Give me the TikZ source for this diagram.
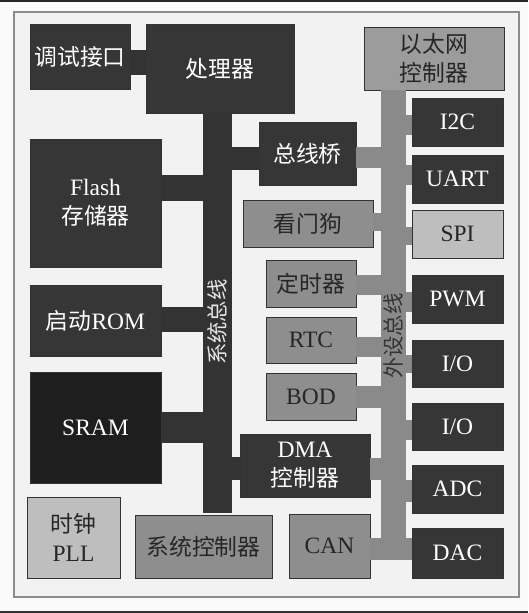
\documentclass[tikz,border=0pt]{standalone}
\usepackage{fontspec}
\setmainfont{Liberation Serif}
\newfontfamily\cjk[Scale=0.97]{Noto Sans CJK SC}
\usepackage{xcolor}
\definecolor{blkdark}{HTML}{363636}
\definecolor{sramblk}{HTML}{1E1E1E}
\definecolor{blkgray}{HTML}{8E8E8E}
\definecolor{ethgray}{HTML}{9C9C9C}
\definecolor{blklight}{HTML}{BEBEBE}
\definecolor{busdark}{HTML}{333333}
\definecolor{busgray}{HTML}{8A8A8A}
\definecolor{bgpanel}{HTML}{F2F2F2}
\tikzset{
  blk/.style={draw=black!80, line width=0.7pt, align=center, inner sep=0pt,
    font=\fontsize{23.5}{29}\selectfont},
  darkblk/.style={blk, fill=blkdark, text=white},
  grayblk/.style={blk, fill=blkgray, text=black!85},
  lightblk/.style={blk, fill=blklight, text=black!85},
  bw/.style={minimum width=#1},
  bh/.style={minimum height=#1},
  syslink/.style={draw=busdark, line width=#1},
  perlink/.style={draw=busgray, line width=#1},
  buslabel/.style={rotate=90, inner sep=0pt,
    font=\cjk\fontsize{22}{22}\selectfont}
}

\begin{document}
\begin{tikzpicture}[x=1pt, y=-1pt]
  \useasboundingbox (0,0) rectangle (528,613);
  \fill[white!98!black] (0,0) rectangle (528,613);
  \fill[black!85] (0,0) rectangle (528,1.5);
  \fill[black!80] (0,610.5) rectangle (528,613);
  \draw[draw=black!45, line width=1.8pt, fill=bgpanel] (14,12) rectangle (519,597);

  % system side
  \node[darkblk, bw=100pt, bh=65pt] (dbg) at (80,56.5) {\cjk 调试接口};
  \node[darkblk, bw=148pt, bh=89pt] (cpu) at (220,68.5) {\cjk 处理器};
  \node[darkblk, bw=131pt, bh=128pt] (flash) at (95.5,203) {Flash\\{\cjk 存储器}};
  \node[darkblk, bw=131pt, bh=71pt] (bootrom) at (95.5,320.5) {{\cjk 启动}ROM};
  \node[blk, fill=sramblk, text=white, bw=131pt, bh=111pt] (sram) at (95.5,427.5) {SRAM};
  \node[fill=busdark, inner sep=0pt, bw=29pt, bh=400pt] (sysbus) at (217.5,313) {};
  \node[buslabel, text=white!90!black] (sysbuslabel) at (217.5,322) {系统总线};

  \node[darkblk, bw=97pt, bh=63pt] (bridge) at (307.5,153.5) {\cjk 总线桥};
  \node[grayblk, bw=130pt, bh=47pt] (wdog) at (308,223.5) {\cjk 看门狗};
  \node[grayblk, bw=90pt, bh=47pt] (timer) at (311,283.5) {\cjk 定时器};
  \node[grayblk, bw=90pt, bh=46pt] (rtc) at (311,340) {RTC};
  \node[grayblk, bw=90pt, bh=47pt] (bod) at (311,396.5) {BOD};
  \node[darkblk, bw=130pt, bh=63pt] (dma) at (305,465.5) {DMA\\{\cjk 控制器}};

  \node[lightblk, bw=93pt, bh=81pt] (pll) at (73.5,537.5) {{\cjk 时钟}\\PLL};
  \node[grayblk, bw=137pt, bh=63pt] (sysctl) at (203.5,546.5) {\cjk 系统控制器};
  \node[grayblk, bw=81pt, bh=64pt] (can) at (329.5,546) {CAN};

  % peripheral side
  \node[grayblk, fill=ethgray, bw=140pt, bh=63pt] (eth) at (434,58.5)
    {{\cjk 以太网}\\{\cjk 控制器}};
  \node[fill=busgray, inner sep=0pt, bw=25pt, bh=470pt] (perbus) at (393.5,325) {};
  \node[buslabel, text=black!80] (perbuslabel) at (393.5,336) {外设总线};

  \node[darkblk, bw=91pt, bh=48pt] (itwoc) at (457.5,122) {I2C};
  \node[darkblk, bw=91pt, bh=48pt] (uart) at (457.5,179) {UART};
  \node[lightblk, bw=91pt, bh=48pt] (spi) at (457.5,234) {SPI};
  \node[darkblk, bw=91pt, bh=48pt] (pwm) at (457.5,299) {PWM};
  \node[darkblk, bw=91pt, bh=47pt] (gpioa) at (457.5,363.5) {I/O};
  \node[darkblk, bw=91pt, bh=47pt] (gpiob) at (457.5,426.5) {I/O};
  \node[darkblk, bw=91pt, bh=48pt] (adc) at (457.5,489) {ADC};
  \node[darkblk, bw=91pt, bh=50pt] (dac) at (457.5,553) {DAC};

  % system bus links
  \draw[syslink=25pt] (dbg.east |- 0,62.5) -- (cpu.west |- 0,62.5);
  \draw[syslink=26pt] (flash.east |- 0,188) -- (sysbus.west |- 0,188);
  \draw[syslink=25pt] (bootrom.east |- 0,319.5) -- (sysbus.west |- 0,319.5);
  \draw[syslink=31pt] (sram.east |- 0,427.5) -- (sysbus.west |- 0,427.5);
  \draw[syslink=23pt] (sysbus.east |- 0,158.5) -- (bridge.west |- 0,158.5);
  \draw[syslink=23pt] (sysbus.east |- 0,468.5) -- (dma.west |- 0,468.5);

  % peripheral bus links
  \draw[perlink=21pt] (bridge.east |- 0,157) -- (perbus.west |- 0,157);
  \draw[perlink=18pt] (wdog.east |- 0,222) -- (perbus.west |- 0,222);
  \draw[perlink=20pt] (timer.east |- 0,285) -- (perbus.west |- 0,285);
  \draw[perlink=20pt] (rtc.east |- 0,347) -- (perbus.west |- 0,347);
  \draw[perlink=22pt] (bod.east |- 0,397) -- (perbus.west |- 0,397);
  \draw[perlink=22pt] (dma.east |- 0,469) -- (perbus.west |- 0,469);
  \draw[perlink=22pt] (can.east |- 0,549) -- (perbus.west |- 0,549);
  \draw[perlink=20pt] (perbus.east |- 0,125) -- (itwoc.west |- 0,125);
  \draw[perlink=20pt] (perbus.east |- 0,175) -- (uart.west |- 0,175);
  \draw[perlink=18pt] (perbus.east |- 0,236) -- (spi.west |- 0,236);
  \draw[perlink=20pt] (perbus.east |- 0,302) -- (pwm.west |- 0,302);
  \draw[perlink=18pt] (perbus.east |- 0,363.5) -- (gpioa.west |- 0,363.5);
  \draw[perlink=20pt] (perbus.east |- 0,430) -- (gpiob.west |- 0,430);
  \draw[perlink=22pt] (perbus.east |- 0,491) -- (adc.west |- 0,491);
  \draw[perlink=22pt] (perbus.east |- 0,549) -- (dac.west |- 0,549);
\end{tikzpicture}
\end{document}
